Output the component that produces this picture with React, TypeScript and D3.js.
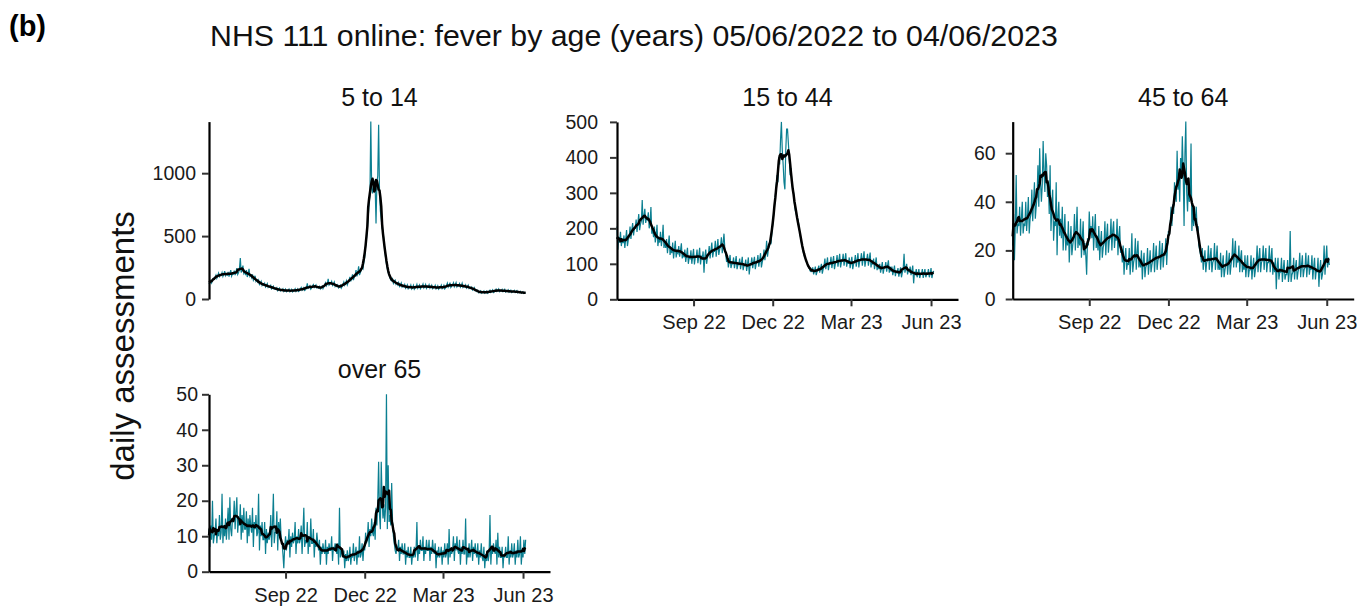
import React, { useEffect, useRef } from 'react';
import * as d3 from 'd3';

// daily assessments, 05/06/2022 .. 04/06/2023, one row per week
const age5to14 = [
  118, 130, 145, 128, 150, 165, 158,
  172, 190, 165, 185, 205, 178, 192,
  188, 210, 180, 200, 222, 185, 198,
  190, 215, 178, 205, 230, 182, 200,
  198, 225, 190, 215, 245, 195, 210,
  240, 325, 210, 230, 265, 205, 220,
  190, 230, 175, 200, 240, 180, 190,
  170, 195, 150, 165, 185, 140, 150,
  135, 150, 115, 125, 140, 108, 118,
  110, 125, 95, 105, 122, 92, 100,
  95, 108, 80, 90, 102, 78, 85,
  78, 90, 66, 75, 86, 64, 70,
  70, 80, 60, 68, 78, 58, 64,
  68, 78, 58, 66, 76, 56, 62,
  70, 82, 60, 68, 80, 60, 66,
  80, 92, 70, 78, 90, 68, 75,
  88, 125, 85, 92, 105, 78, 88,
  105, 115, 92, 100, 112, 88, 95,
  88, 100, 80, 90, 102, 82, 98,
  115, 130, 105, 120, 160, 110, 118,
  125, 140, 108, 120, 135, 100, 110,
  100, 112, 88, 98, 110, 86, 100,
  115, 135, 110, 125, 145, 112, 130,
  150, 175, 140, 165, 195, 150, 175,
  185, 230, 180, 205, 260, 190, 210,
  230, 250, 240, 290, 330, 420, 480,
  560, 650, 760, 820, 1410, 880, 840,
  900, 940, 900, 600, 920, 980, 1384,
  860, 700, 640, 560, 540, 470, 400,
  330, 280, 240, 210, 190, 170, 150,
  145, 160, 125, 140, 150, 118, 128,
  112, 130, 100, 112, 128, 95, 105,
  98, 115, 85, 95, 112, 82, 92,
  92, 110, 80, 90, 108, 78, 88,
  95, 115, 85, 98, 112, 82, 92,
  100, 118, 88, 100, 116, 84, 95,
  96, 114, 85, 96, 110, 82, 92,
  92, 108, 80, 90, 105, 78, 88,
  94, 110, 82, 92, 108, 80, 90,
  105, 125, 95, 108, 130, 92, 102,
  110, 128, 98, 112, 130, 96, 108,
  104, 122, 94, 106, 125, 92, 100,
  98, 112, 86, 96, 110, 84, 92,
  85, 95, 72, 80, 90, 66, 72,
  60, 68, 50, 55, 64, 46, 52,
  55, 64, 46, 52, 62, 45, 50,
  60, 70, 52, 60, 72, 52, 58,
  66, 78, 60, 68, 80, 58, 65,
  64, 76, 58, 66, 76, 56, 62,
  60, 72, 54, 60, 70, 52, 58,
  58, 68, 52, 58, 66, 50, 55,
  52, 60, 46, 50, 58, 44, 48,
  50
];

const age15to44 = [
  205, 140, 175, 160, 190, 150, 172,
  158, 180, 145, 170, 195, 150, 168,
  175, 205, 170, 195, 215, 180, 200,
  200, 225, 190, 215, 240, 195, 212,
  220, 280, 210, 235, 255, 215, 230,
  225, 245, 200, 215, 260, 185, 200,
  175, 205, 160, 180, 210, 150, 170,
  160, 190, 150, 170, 210, 145, 165,
  145, 170, 130, 155, 180, 125, 145,
  130, 160, 115, 140, 165, 118, 135,
  130, 150, 120, 138, 158, 115, 132,
  118, 140, 105, 125, 145, 100, 118,
  115, 138, 100, 122, 142, 98, 118,
  118, 140, 102, 122, 145, 98, 120,
  115, 135, 75, 120, 140, 100, 118,
  125, 150, 115, 138, 160, 118, 135,
  135, 165, 120, 145, 170, 125, 140,
  150, 175, 130, 160, 185, 140, 125,
  105, 120, 90, 108, 125, 88, 100,
  100, 118, 88, 105, 122, 85, 98,
  98, 115, 85, 102, 120, 82, 96,
  95, 112, 80, 98, 118, 70, 95,
  100, 118, 88, 104, 120, 85, 100,
  105, 125, 92, 110, 130, 90, 105,
  115, 140, 110, 130, 165, 120, 140,
  150, 165, 155, 185, 210, 240, 260,
  290, 320, 350, 330, 400, 380, 450,
  500, 420, 380, 330, 310, 420, 480,
  480, 440, 400, 350, 370, 330, 310,
  300, 270, 250, 240, 230, 225, 210,
  190, 175, 160, 150, 135, 125, 118,
  112, 105, 98, 92, 88, 80, 78,
  82, 90, 70, 80, 92, 68, 78,
  85, 95, 75, 88, 100, 72, 85,
  95, 115, 85, 100, 118, 82, 98,
  100, 120, 88, 105, 122, 85, 100,
  105, 125, 92, 110, 128, 90, 105,
  108, 128, 95, 112, 130, 92, 108,
  100, 118, 88, 105, 120, 85, 100,
  105, 125, 92, 110, 130, 90, 108,
  110, 130, 95, 115, 135, 92, 108,
  110, 128, 95, 115, 132, 90, 110,
  98, 115, 85, 102, 118, 82, 98,
  85, 100, 75, 90, 105, 72, 88,
  90, 105, 78, 95, 110, 75, 92,
  78, 92, 68, 80, 95, 65, 78,
  75, 88, 64, 78, 90, 62, 75,
  85, 128, 75, 88, 100, 70, 82,
  78, 92, 68, 80, 95, 45, 78,
  70, 85, 62, 72, 85, 60, 70,
  72, 85, 60, 74, 85, 62, 70,
  70, 85, 62, 72, 88, 60, 72,
  80
];

const age45to64 = [
  22, 35, 16, 30, 51, 27, 31,
  30, 38, 26, 33, 40, 27, 31,
  30, 40, 28, 34, 42, 27, 33,
  35, 45, 32, 40, 48, 33, 38,
  42, 55, 38, 62, 48, 40, 47,
  65, 52, 44, 60, 55, 42, 48,
  35, 55, 28, 38, 45, 24, 32,
  30, 48, 18, 34, 40, 26, 33,
  25, 38, 20, 28, 35, 20, 26,
  22, 32, 15, 24, 30, 18, 22,
  25, 35, 20, 28, 38, 21, 26,
  22, 33, 17, 25, 32, 18, 23,
  18, 10, 25, 22, 36, 28, 30,
  25, 34, 20, 28, 35, 21, 26,
  20, 30, 16, 23, 28, 17, 21,
  23, 32, 18, 26, 31, 19, 24,
  25, 33, 20, 28, 32, 21, 26,
  24, 33, 18, 26, 30, 19, 20,
  15, 22, 10, 17, 21, 12, 15,
  14, 21, 10, 16, 27, 11, 15,
  17, 25, 12, 19, 24, 13, 16,
  13, 20, 8, 15, 19, 9, 13,
  14, 21, 10, 15, 20, 11, 14,
  16, 23, 11, 17, 22, 12, 16,
  17, 24, 12, 18, 23, 13, 18,
  18, 25, 14, 22, 28, 26, 30,
  38, 30, 39, 35, 48, 42, 40,
  61, 45, 52, 40, 58, 50, 67,
  52, 30, 60, 73, 44, 36, 48,
  40, 42, 64, 28, 38, 30, 35,
  32, 38, 28, 30, 22, 20, 18,
  15, 21, 12, 16, 20, 11, 15,
  16, 22, 12, 17, 21, 11, 15,
  16, 23, 12, 17, 22, 12, 15,
  12, 19, 9, 14, 18, 9, 12,
  14, 20, 10, 15, 19, 10, 14,
  17, 25, 13, 19, 24, 13, 17,
  15, 22, 11, 17, 20, 11, 15,
  12, 18, 9, 14, 18, 9, 12,
  12, 18, 8, 13, 17, 9, 12,
  15, 22, 11, 17, 21, 11, 15,
  16, 22, 12, 17, 21, 11, 15,
  15, 22, 11, 17, 21, 10, 15,
  11, 17, 4, 13, 17, 8, 11,
  11, 17, 7, 12, 16, 8, 10,
  10, 16, 7, 11, 28, 7, 10,
  11, 17, 8, 13, 16, 8, 11,
  13, 19, 9, 14, 18, 9, 12,
  13, 19, 9, 14, 18, 10, 13,
  12, 18, 8, 13, 17, 8, 12,
  11, 17, 5, 12, 16, 8, 10,
  13, 22, 10, 16, 22, 13, 17,
  14
];

const over65 = [
  12, 7, 13, 9, 20, 8, 10,
  11, 15, 8, 12, 10, 16, 9,
  11, 22, 8, 13, 10, 15, 9,
  13, 18, 9, 21, 12, 10, 15,
  14, 20, 12, 17, 21, 11, 15,
  13, 19, 9, 16, 11, 18, 12,
  12, 17, 8, 15, 10, 16, 13,
  11, 18, 7, 14, 12, 16, 10,
  11, 22, 6, 13, 10, 14, 9,
  9, 14, 5, 12, 8, 11, 9,
  10, 16, 7, 13, 22, 8, 11,
  11, 17, 6, 14, 10, 15, 9,
  8, 5, 1, 7, 10, 6, 9,
  8, 12, 4, 10, 7, 11, 8,
  9, 14, 5, 10, 8, 12, 8,
  9, 13, 5, 11, 18, 7, 9,
  8, 14, 5, 10, 7, 15, 8,
  8, 12, 4, 9, 7, 11, 8,
  6, 9, 2, 7, 5, 8, 6,
  5, 9, 2, 7, 5, 8, 6,
  6, 10, 3, 7, 6, 8, 6,
  5, 8, 2, 18, 4, 6, 5,
  4, 6, 1, 5, 3, 6, 3,
  4, 7, 2, 5, 4, 8, 3,
  5, 7, 2, 6, 4, 10, 4,
  5, 8, 3, 7, 6, 11, 8,
  9, 14, 7, 12, 10, 15, 11,
  10, 14, 9, 18, 13, 20, 31,
  16, 12, 31, 20, 15, 19, 14,
  18, 50, 12, 30, 14, 16, 13,
  25, 14, 10, 8, 6, 5, 7,
  6, 9, 3, 7, 5, 8, 5,
  5, 8, 2, 6, 4, 7, 4,
  4, 7, 2, 5, 4, 7, 4,
  6, 14, 3, 7, 5, 9, 6,
  6, 10, 3, 7, 5, 9, 6,
  6, 9, 3, 7, 5, 9, 6,
  5, 8, 1, 6, 4, 7, 4,
  5, 7, 2, 6, 4, 8, 4,
  5, 8, 2, 12, 4, 6, 5,
  6, 10, 3, 8, 6, 10, 6,
  5, 9, 2, 7, 5, 9, 5,
  5, 15, 2, 6, 4, 8, 4,
  6, 9, 3, 7, 5, 8, 5,
  4, 8, 2, 6, 4, 8, 4,
  3, 7, 1, 5, 3, 6, 3,
  5, 16, 2, 7, 5, 8, 6,
  5, 9, 2, 11, 4, 7, 4,
  4, 7, 1, 5, 4, 7, 4,
  4, 10, 2, 6, 4, 8, 4,
  5, 8, 2, 6, 4, 9, 4,
  5, 10, 2, 6, 4, 9, 5,
  9
];

const panelTitles = ['5 to 14', '15 to 44', '45 to 64', 'over 65'];
const yTicks = [
  [0, 500, 1000],
  [0, 100, 200, 300, 400, 500],
  [0, 20, 40, 60],
  [0, 10, 20, 30, 40, 50]
];
const xTickDates = [new Date(2022, 8, 1), new Date(2022, 11, 1), new Date(2023, 2, 1), new Date(2023, 5, 1)];
const xTickLabels = ['Sep 22', 'Dec 22', 'Mar 23', 'Jun 23'];

const START = new Date(2022, 5, 5);
const AXIS_END = new Date(2023, 6, 2);
const TEAL = '#0b7f91';
const FONT = '"Liberation Sans", Arial, sans-serif';

// centred 7 day average, shorter window at the ends
function rolling(values: number[], k = 7) {
  const h = Math.floor(k / 2);
  return values.map((_, i) => {
    const w = values.slice(Math.max(0, i - h), Math.min(values.length, i + h + 1));
    return d3.mean(w) as number;
  });
}

export default function App() {
  const ref = useRef<SVGSVGElement>(null);

  useEffect(() => {
    const svg = d3.select(ref.current);
    svg.selectAll('*').remove();

    const layout = [
      { left: 209, bottom: 299, xAxis: false, pad: 6 },
      { left: 617, bottom: 299.3, xAxis: true, pad: 12 },
      { left: 1012.7, bottom: 299, xAxis: true, pad: 10 },
      { left: 209, bottom: 571.7, xAxis: true, pad: 4 }
    ];
    const width = 341;
    const height = 177.4;
    const series = [age5to14, age15to44, age45to64, over65];

    svg.append('text').attr('x', 9).attr('y', 36)
      .attr('font-family', FONT).attr('font-size', 29).attr('font-weight', 'bold')
      .text('(b)');
    svg.append('text').attr('x', 210).attr('y', 46)
      .attr('font-family', FONT).attr('font-size', 30.3).attr('fill', '#111')
      .text('NHS 111 online: fever by age (years) 05/06/2022 to 04/06/2023');
    svg.append('text')
      .attr('transform', 'translate(134, 346) rotate(-90)')
      .attr('text-anchor', 'middle')
      .attr('font-family', FONT).attr('font-size', 33).attr('fill', '#111')
      .text('daily assessments');

    series.forEach((values, p) => {
      const { left, bottom, xAxis, pad } = layout[p];
      const dates = values.map((_, i) => d3.timeDay.offset(START, i));
      const x = d3.scaleTime().domain([START, AXIS_END]).range([left, left + width]);
      const y = d3.scaleLinear().domain([0, d3.max(values) as number]).range([bottom, bottom - height]);

      const g = svg.append('g');

      const line = d3.line<number>()
        .x((_, i) => x(dates[i]))
        .y((d) => y(d));

      g.append('path').datum(values)
        .attr('d', line).attr('fill', 'none')
        .attr('stroke', TEAL).attr('stroke-width', 1.2);
      g.append('path').datum(rolling(values))
        .attr('d', line).attr('fill', 'none')
        .attr('stroke', '#000').attr('stroke-width', 2.5).attr('stroke-linejoin', 'round');

      // y axis
      const yAxis = g.append('g').attr('transform', `translate(${left},0)`)
        .call(d3.axisLeft(y).tickValues(yTicks[p]).tickSize(7).tickPadding(pad).tickSizeOuter(0)
          .tickFormat(d3.format('d')));
      yAxis.select('.domain').attr('stroke-width', 2.2).attr('stroke', '#000');
      yAxis.selectAll('.tick line').attr('stroke-width', 2).attr('stroke', '#333');
      yAxis.selectAll('.tick text')
        .attr('font-family', FONT).attr('font-size', 19.5).attr('fill', '#1a1a1a');

      if (xAxis) {
        const xa = g.append('g').attr('transform', `translate(0,${bottom})`)
          .call(d3.axisBottom(x).tickValues(xTickDates).tickSize(7).tickPadding(9).tickSizeOuter(0)
            .tickFormat((_, i) => xTickLabels[i]));
        xa.select('.domain').attr('stroke-width', 2.2).attr('stroke', '#000');
        xa.selectAll('.tick line').attr('stroke-width', 2).attr('stroke', '#333');
        xa.selectAll('.tick text')
          .attr('font-family', FONT).attr('font-size', 20).attr('fill', '#1a1a1a');
      }

      g.append('text')
        .attr('x', left + width / 2).attr('y', bottom - height - 16)
        .attr('text-anchor', 'middle')
        .attr('font-family', FONT).attr('font-size', 25).attr('fill', '#111')
        .text(panelTitles[p]);
    });
  }, []);

  return (
    <svg ref={ref} width={1357} height={607}
      style={{ position: 'absolute', left: 0, top: 0, background: '#fff' }} />
  );
}
